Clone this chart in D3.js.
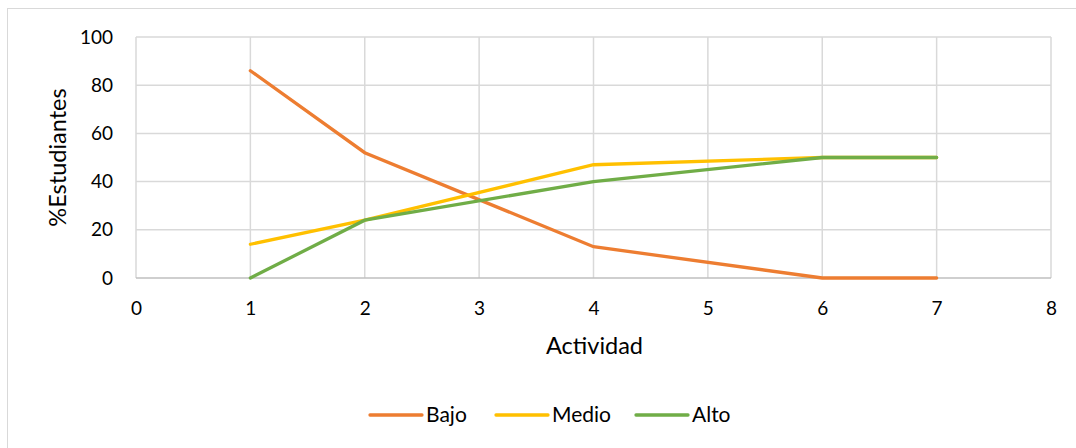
<!DOCTYPE html>
<html><head><meta charset="utf-8">
<script src="https://cdn.jsdelivr.net/npm/d3@7"></script>
<style>
body{margin:0;background:#fff;}
svg text{font-family:Lato, "Noto Sans", sans-serif;fill:#000;}
</style></head>
<body><svg id="c" width="1076" height="448"></svg>
<script>
const actividad = [1, 2, 4, 6, 7];
const bajo  = [86, 52, 13, 0, 0];
const medio = [14, 24, 47, 50, 50];
const alto  = [0, 24, 40, 50, 50];
const seriesNames = ["Bajo", "Medio", "Alto"];
const seriesColors = ["#ED7D31", "#FFC000", "#70AD47"];
const xTicks = [0,1,2,3,4,5,6,7,8];
const yTicks = [0,20,40,60,80,100];

const svg = d3.select("#c");
svg.append("rect").attr("x",7.5).attr("y",8.5).attr("width",1080).attr("height",450)
  .attr("fill","#fff").attr("stroke","#d9d9d9").attr("stroke-width",1);

const L=136, R=1051, T=37, B=278;
const x = d3.scaleLinear().domain([0,8]).range([L,R]);
const y = d3.scaleLinear().domain([0,100]).range([B,T]);

const g = svg.append("g");
g.selectAll(".vg").data(xTicks).join("line")
  .attr("x1",d=>x(d)).attr("x2",d=>x(d)).attr("y1",T).attr("y2",B)
  .attr("stroke","#d9d9d9").attr("stroke-width",1.5);
g.selectAll(".hg").data(yTicks).join("line")
  .attr("x1",L).attr("x2",R).attr("y1",d=>y(d)).attr("y2",d=>y(d))
  .attr("stroke",d=>d===0?"#bfbfbf":"#d9d9d9").attr("stroke-width",1.5);

const tickFs = 19;
const xAxis = d3.axisBottom(x).tickValues(xTicks).tickSize(0).tickPadding(23.5).tickFormat(d3.format("d"));
const xa = svg.append("g").attr("transform",`translate(0,${B})`).call(xAxis);
xa.select(".domain").remove();
xa.selectAll("text").style("font-size",tickFs+"px").style("font-family","Lato, sans-serif").attr("fill","#000");
const yAxis = d3.axisLeft(y).tickValues(yTicks).tickSize(0).tickPadding(23).tickFormat(d3.format("d"));
const ya = svg.append("g").attr("transform",`translate(${L},0)`).call(yAxis);
ya.select(".domain").remove();
ya.selectAll("text").style("font-size",tickFs+"px").style("font-family","Lato, sans-serif").attr("fill","#000");

svg.append("text").attr("x",(L+R)/2+1).attr("y",354).attr("text-anchor","middle")
  .style("font-size","23.5px").text("Actividad");
svg.append("text").attr("transform",`translate(66,${(T+B)/2}) rotate(-90)`).attr("text-anchor","middle")
  .style("font-size","23.5px").text("%Estudiantes");

const data = [bajo, medio, alto];
const line = d3.line().x((d,i)=>x(actividad[i])).y(d=>y(d));
data.forEach((s,k)=>{
  svg.append("path").datum(s).attr("d",line).attr("fill","none")
    .attr("stroke",seriesColors[k]).attr("stroke-width",3.3).attr("stroke-linecap","round");
});

const legX = [370, 496, 636];
seriesNames.forEach((n,k)=>{
  svg.append("line").attr("x1",legX[k]).attr("x2",legX[k]+52).attr("y1",415).attr("y2",415)
    .attr("stroke",seriesColors[k]).attr("stroke-width",3.3).attr("stroke-linecap","round");
  svg.append("text").attr("x",legX[k]+56).attr("y",422).style("font-size","21px").text(n);
});
</script></body></html>
